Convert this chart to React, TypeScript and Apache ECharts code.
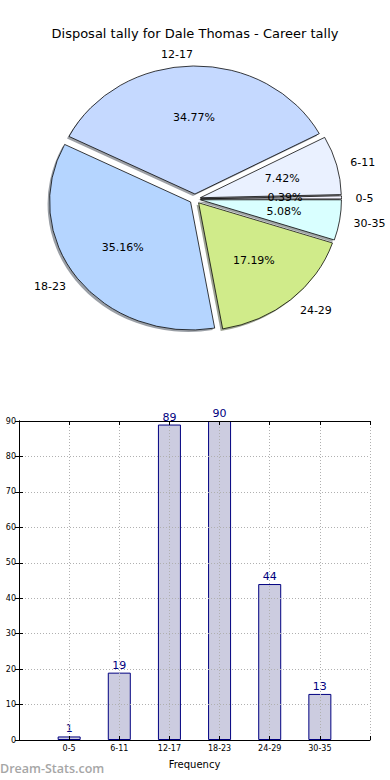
import React, { useEffect, useRef } from "react";
import * as echarts from "echarts";

const titleText = "Disposal tally for Dale Thomas - Career tally";
const categories = ["0-5", "6-11", "12-17", "18-23", "24-29", "30-35"];
const tallies = [1, 19, 89, 90, 44, 13];
const sliceColors = ["#f4f4ff", "#eaf1ff", "#c5d9ff", "#b5d5ff", "#d0eb8a", "#d9ffff"];
const yTicks = [0, 10, 20, 30, 40, 50, 60, 70, 80, 90];

const FONT = "DejaVu Sans";
const CX = 195;
const CY = 199;
const R = 141;
const SY = 128 / 141;
const EXPLODE = 5.5;
const SHX = -2;
const SHY = 2;

function shadowOf(hex: string) {
  const n = parseInt(hex.slice(1), 16);
  const r = Math.round(((n >> 16) & 255) * 0.3);
  const g = Math.round(((n >> 8) & 255) * 0.3);
  const b = Math.round((n & 255) * 0.3);
  return `rgba(${r},${g},${b},0.5)`;
}

export default function App() {
  const ref = useRef<HTMLDivElement>(null);
  useEffect(() => {
    if (!ref.current) return;
    const chart = echarts.init(ref.current, null, { renderer: "svg" });
    const total = tallies.reduce((a, b) => a + b, 0);
    const starts: number[] = [];
    let acc = 0;
    tallies.forEach((v) => {
      starts.push(acc);
      acc += v;
    });

    const renderItem = (params: any, api: any) => {
      const i = params.dataIndex;
      const v = api.value(1);
      const a1 = (starts[i] / total) * Math.PI * 2;
      const a2 = ((starts[i] + v) / total) * Math.PI * 2;
      const mid = (a1 + a2) / 2;
      const cos = Math.cos(mid);
      const sin = Math.sin(mid);
      const cx = CX + EXPLODE * cos;
      const cy = CY - EXPLODE * sin * SY;
      const shape = { cx: 0, cy: 0, r: R, r0: 0, startAngle: -a2, endAngle: -a1, clockwise: true };
      const pctD = R * 0.6 + EXPLODE;
      const labD = R * 1.1 + EXPLODE;
      const pct = ((v / total) * 100).toFixed(2) + "%";
      return {
        type: "group",
        children: [
          {
            type: "sector",
            x: cx + SHX,
            y: cy + SHY,
            scaleY: SY,
            shape,
            style: { fill: shadowOf(sliceColors[i]) },
            z2: 0,
            silent: true,
          },
          {
            type: "sector",
            x: cx,
            y: cy,
            scaleY: SY,
            shape,
            style: { fill: sliceColors[i], stroke: "#000", lineWidth: 0.8, strokeNoScale: true },
            z2: 5,
          },
          {
            type: "text",
            x: CX + pctD * cos,
            y: CY - pctD * sin * SY,
            style: {
              text: pct,
              fill: "#000",
              fontSize: 11,
              fontFamily: FONT,
              align: "center",
              verticalAlign: "middle",
            },
            z2: 20,
          },
          {
            type: "text",
            x: CX + labD * cos,
            y: CY - labD * sin * SY + 1,
            style: {
              text: categories[i],
              fill: "#000",
              fontSize: 11,
              fontFamily: FONT,
              align: cos > 0 ? "left" : "right",
              verticalAlign: "middle",
            },
            z2: 20,
          },
        ],
      };
    };

    const axisLabelFmt = (val: number) => {
      const idx = Math.round(val) - 1;
      return idx >= 0 && idx < categories.length ? categories[idx] : "";
    };

    chart.setOption({
      animation: false,
      title: {
        text: titleText,
        left: "center",
        top: 22,
        textStyle: { fontSize: 13, fontWeight: "normal", color: "#000", fontFamily: FONT },
      },
      grid: { left: 19, right: 20, top: 421, bottom: 40, containLabel: false },
      xAxis: [
        {
          type: "value",
          min: 0,
          max: 7,
          interval: 1,
          position: "bottom",
          z: 5,
          axisLine: { show: true, onZero: false, lineStyle: { color: "#000", width: 1 } },
          axisTick: { show: true, inside: true, length: 4, lineStyle: { color: "#000" } },
          axisLabel: { formatter: axisLabelFmt, fontSize: 8, fontFamily: FONT, color: "#000", margin: 4 },
          splitLine: { show: true, lineStyle: { color: "#b0b0b0", type: [1, 2], width: 1 } },
          name: "Frequency",
          nameLocation: "middle",
          nameGap: 19,
          nameTextStyle: { fontSize: 10, fontFamily: FONT, color: "#000" },
        },
        {
          type: "value",
          min: 0,
          max: 7,
          interval: 1,
          position: "top",
          z: 5,
          axisLine: { show: true, onZero: false, lineStyle: { color: "#000", width: 1 } },
          axisTick: { show: true, inside: true, length: 4, lineStyle: { color: "#000" } },
          axisLabel: { show: false },
          splitLine: { show: false },
        },
      ],
      yAxis: [
        {
          type: "value",
          min: 0,
          max: 90,
          interval: 10,
          position: "left",
          z: 5,
          axisLine: { show: true, lineStyle: { color: "#000", width: 1 } },
          axisTick: { show: true, inside: true, length: 4, lineStyle: { color: "#000" } },
          axisLabel: {
            fontSize: 8,
            fontFamily: FONT,
            color: "#000",
            margin: 3,
            formatter: (v: number) => (yTicks.includes(v) ? String(v) : ""),
          },
          splitLine: { show: true, lineStyle: { color: "#b0b0b0", type: [1, 2], width: 1 } },
        },
        {
          type: "value",
          min: 0,
          max: 90,
          interval: 10,
          position: "right",
          z: 5,
          axisLine: { show: true, lineStyle: { color: "#000", width: 1 } },
          axisTick: { show: true, inside: true, length: 4, lineStyle: { color: "#000" } },
          axisLabel: { show: false },
          splitLine: { show: false },
        },
      ],
      graphic: [
        {
          type: "text",
          left: 0,
          top: 762,
          style: {
            text: "Dream-Stats.com",
            fill: "#a6a6a6",
            fontSize: 12.5,
            fontWeight: 600,
            fontFamily: "Open Sans",
          },
        },
      ],
      series: [
        {
          type: "custom",
          coordinateSystem: "none",
          renderItem,
          data: tallies.map((v, i) => [i, v]),
        },
        {
          type: "bar",
          xAxisIndex: 0,
          yAxisIndex: 0,
          barWidth: 23,
          data: tallies.map((v, i) => [i + 1, v]),
          itemStyle: { color: "rgba(0,0,100,0.2)", borderColor: "#000080", borderWidth: 1 },
          label: {
            show: true,
            position: "top",
            distance: 2,
            color: "#000080",
            fontSize: 11,
            fontFamily: FONT,
          },
          z: 1,
        },
      ],
    });
    return () => chart.dispose();
  }, []);
  return (
    <div
      ref={ref}
      style={{ position: "fixed", left: 0, top: 0, width: 390, height: 780, background: "#fff" }}
    />
  );
}
